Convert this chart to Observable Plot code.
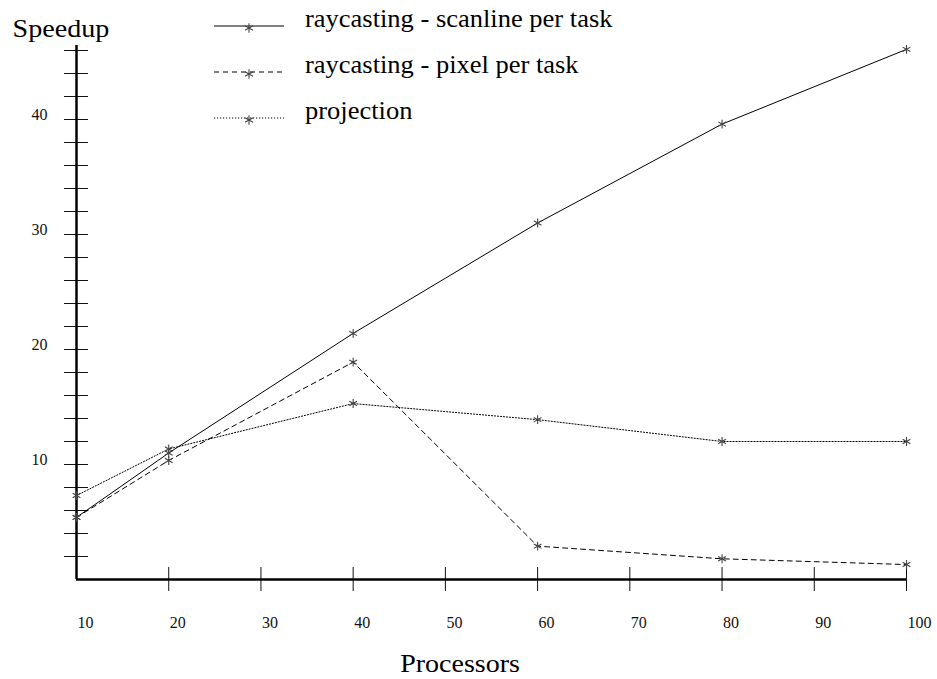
<!DOCTYPE html>
<html>
<head>
<meta charset="utf-8">
<script src="https://cdn.jsdelivr.net/npm/d3@7"></script>
<script src="https://cdn.jsdelivr.net/npm/@observablehq/plot@0.6"></script>
<style>
  html, body { margin: 0; padding: 0; background: #fff; }
  #chart { width: 937px; height: 679px; }
</style>
</head>
<body>
<div id="chart"></div>
<script>
// ---- data ----
const processors = [10, 20, 40, 60, 80, 100];
const scanlinePerTask = [5.4, 11.0, 21.4, 31.0, 39.6, 46.1];
const pixelPerTask = [5.4, 10.35, 18.9, 2.9, 1.8, 1.3];
const projection = [7.3, 11.35, 15.3, 13.9, 12.0, 12.0];
const seriesNames = ["raycasting - scanline per task", "raycasting - pixel per task", "projection"];
const xTicks = [20, 30, 40, 50, 60, 70, 80, 90, 100];
const xTickLabels = [10, 20, 30, 40, 50, 60, 70, 80, 90, 100];
const yTicks = d3.range(2, 47, 2);
const yTickLabels = [10, 20, 30, 40];

const seriesValues = [scanlinePerTask, pixelPerTask, projection];
const dashes = [null, "5,4", "1.2,1.8"];
const rows = [];
seriesNames.forEach((name, i) => {
  processors.forEach((p, j) => rows.push({series: name, p, v: seriesValues[i][j]}));
});

const serif = "'Liberation Serif'";
const W = 937, H = 679;
const mL = 76, mR = 31, mT = 45, mB = 100;

const marks = [
  Plot.axisY({ticks: yTicks, tickSize: 12, tickFormat: () => "", label: null, stroke: "#111"}),
  Plot.axisY({ticks: yTicks, tickSize: 12, tickFormat: () => "", label: null, stroke: "#111", dx: 12}),
  Plot.axisX({ticks: xTicks, tickSize: 12, tickFormat: () => "", label: null, stroke: "#111"}),
  Plot.axisX({ticks: xTicks, tickSize: 12, tickFormat: () => "", label: null, stroke: "#111", dy: -12}),
  Plot.text(yTickLabels, {y: d => d, text: d => String(d), frameAnchor: "left", dx: -29,
    textAnchor: "end", lineAnchor: "bottom", fontSize: 16, fill: "#111", fontFamily: serif}),
  Plot.text(xTickLabels, {x: d => d, text: d => String(d), frameAnchor: "bottom", dx: 1, dy: 48,
    textAnchor: "start", lineAnchor: "bottom", fontSize: 16, fill: "#111", fontFamily: serif}),
  Plot.ruleX([10], {stroke: "#000", strokeWidth: 2.5}),
  Plot.ruleY([0], {stroke: "#000", strokeWidth: 2.5}),
];
seriesNames.forEach((name, i) => {
  const d = rows.filter(r => r.series === name);
  marks.push(Plot.line(d, {x: "p", y: "v", stroke: "#000", strokeWidth: 1,
    strokeDasharray: dashes[i] || undefined}));
});
marks.push(Plot.dot(rows, {x: "p", y: "v", symbol: "asterisk", r: 4.2, stroke: "#444", strokeWidth: 1.1}));

const plot = Plot.plot({
  width: W, height: H,
  marginLeft: mL, marginRight: mR, marginTop: mT, marginBottom: mB,
  style: {fontFamily: serif, background: "#fff", overflow: "visible"},
  x: {domain: [10, 100], axis: null},
  y: {domain: [0, (H - mB - mT) / 11.5], axis: null},
  marks
});
document.getElementById("chart").appendChild(plot);

const svg = d3.select(plot);
// text set at 20px and scaled (slightly wider than tall, as in the reference)
function addText(x, y, str, size, stretch, anchor) {
  const s = size / 20;
  return svg.append("text").attr("x", 0).attr("y", 0)
    .attr("transform", `translate(${x},${y}) scale(${s * stretch},${s})`)
    .attr("text-anchor", anchor || "start")
    .style("font-family", serif).style("font-size", "20px")
    .attr("fill", "#000").text(str);
}
addText(12.5, 37, "Speedup", 25, 1.125);
addText(460, 672, "Processors", 25, 1.12, "middle");

const legY = [26, 72, 118];
seriesNames.forEach((name, i) => {
  const y = legY[i];
  const line = svg.append("line").attr("x1", 214).attr("x2", 284).attr("y1", y).attr("y2", y)
    .attr("stroke", "#000").attr("stroke-width", 1);
  if (dashes[i]) line.attr("stroke-dasharray", dashes[i]);
  svg.append("path").attr("d", d3.symbol(d3.symbolAsterisk, 60)())
    .attr("transform", `translate(249,${y + 2})`).attr("stroke", "#444").attr("stroke-width", 1.1).attr("fill", "none");
  addText(305, y + 1, name, 25, 1.06);
});
</script>
</body>
</html>
